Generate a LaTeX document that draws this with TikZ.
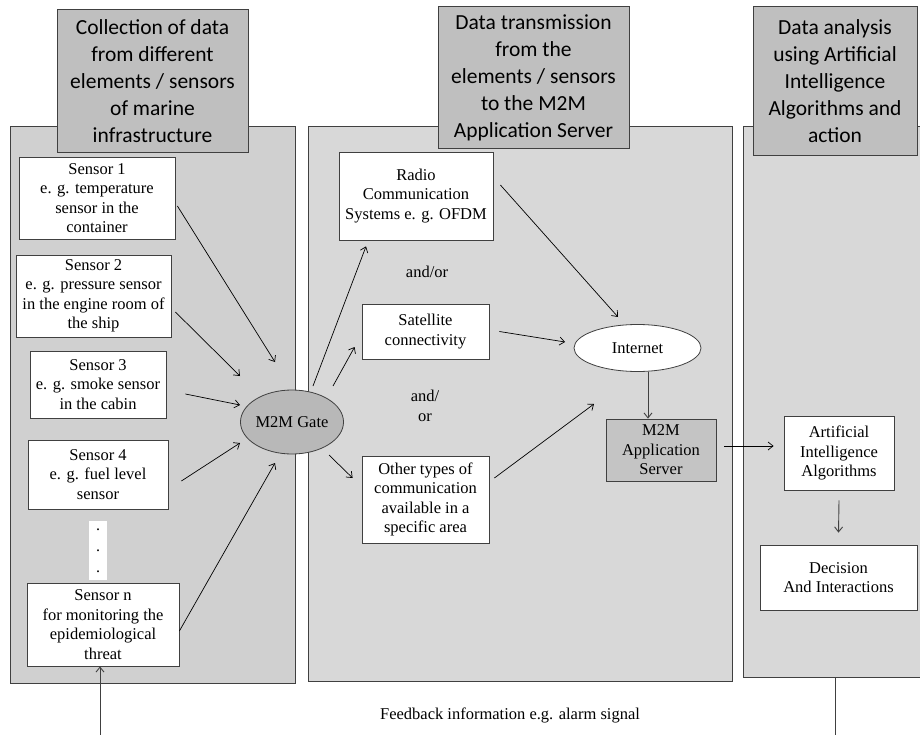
\documentclass[tikz,border=0pt]{standalone}
\usepackage{fontspec}
\setmainfont{Liberation Serif}
\newfontfamily\titlefont{Carlito}
\usetikzlibrary{arrows.meta,shapes.geometric,calc}
\definecolor{panelA}{HTML}{D0D0D0}
\definecolor{panelB}{HTML}{D8D8D8}
\definecolor{titlefill}{HTML}{BFBFBF}
\definecolor{gatefill}{HTML}{B8B8B8}
\definecolor{serverfill}{HTML}{C4C4C4}
\definecolor{edge}{HTML}{404040}
\tikzset{
  panel/.style={draw=edge, line width=1pt, inner sep=0pt},
  titlebox/.style={draw=edge, fill=titlefill, line width=1pt, align=center, inner sep=0pt,
    font=\titlefont\fontsize{21.5}{27}\selectfont},
  box/.style={draw=edge, fill=white, line width=0.8pt, align=center, inner sep=0pt,
    font=\fontsize{16.5}{19.5}\selectfont},
  oval/.style={ellipse, draw=edge, line width=0.8pt, inner sep=0pt, align=center,
    font=\fontsize{16.5}{19.5}\selectfont},
  lbl/.style={align=center, inner sep=0pt, font=\fontsize{16.5}{19.5}\selectfont},
  arr/.style={draw=black, line width=0.7pt, -{Straight Barb[length=5pt,width=8pt]}},
  garr/.style={draw=edge, line width=0.9pt, -{Straight Barb[length=5pt,width=8pt]}},
  gline/.style={draw=edge, line width=0.9pt},
}
\begin{document}
\begin{tikzpicture}[x=1pt,y=-1pt]
\useasboundingbox (0,0) rectangle (920,735);
\clip (0,0) rectangle (920,735);
\fill[white] (0,0) rectangle (920,735);

% panels
\node[panel, fill=panelA, minimum width=285pt, minimum height=556pt] (p1) at (152.5,405) {};
\node[panel, fill=panelB, minimum width=424pt, minimum height=554pt] (p2) at (520,404) {};
\node[panel, fill=panelB, minimum width=187pt, minimum height=550pt] (p3) at (836.5,402) {};

% titles
\node[titlebox, minimum width=191pt, minimum height=143pt] (t1) at (152.5,81.5)
  {Collection of data\\from different\\elements / sensors\\of marine\\infrastructure};
\node[titlebox, minimum width=191pt, minimum height=142pt] (t2) at (533.5,78)
  {Data transmission\\from the\\elements / sensors\\to the M2M\\Application Server};
\node[titlebox, minimum width=164pt, minimum height=149pt] (t3) at (835,81.5)
  {Data analysis\\using Artificial\\Intelligence\\Algorithms and\\action};

% sensors
\node[box, minimum width=156pt, minimum height=82pt] (s1) at (97,198)
  {Sensor 1\\e. g. temperature\\sensor in the\\container};
\node[box, minimum width=155pt, minimum height=82pt] (s2) at (93.5,296)
  {Sensor 2\\e. g. pressure sensor\\in the engine room of\\the ship};
\node[box, minimum width=136pt, minimum height=67pt] (s3) at (98,384.5)
  {Sensor 3\\e. g. smoke sensor\\in the cabin};
\node[box, minimum width=140pt, minimum height=69pt] (s4) at (98,474.5)
  {Sensor 4\\e. g. fuel level\\sensor};
\node[fill=white, inner sep=0pt, minimum width=18pt, minimum height=59pt, align=center,
  font=\fontsize{16}{21}\selectfont] (dots) at (98,550.5) {.\\.\\.};
\node[box, minimum width=152pt, minimum height=83pt] (sn) at (103,624.5)
  {Sensor n\\for monitoring the\\epidemiological\\threat};

\node[oval, fill=gatefill, minimum width=94pt, minimum height=64pt] (gate) at (292,422) {M2M Gate};

% transmission
\node[box, minimum width=154pt, minimum height=88pt] (radio) at (416,196)
  {Radio\\Communication\\Systems e. g. OFDM};
\node[box, minimum width=127pt, minimum height=55pt] (sat) at (425.5,331.5)
  {Satellite\\connectivity};
\node[box, minimum width=127pt, minimum height=87pt] (other) at (425.5,499.5)
  {Other types of\\communication\\available in a\\specific area};
\node[lbl] (ao1) at (427,272) {and/or};
\node[lbl] (ao2) at (425,406) {and/\\or};
\node[oval, fill=white, minimum width=127pt, minimum height=47pt] (inet) at (637.5,348) {Internet};
\node[box, fill=serverfill, minimum width=110pt, minimum height=62pt] (server) at (661,450)
  {M2M\\Application\\Server};

% analysis
\node[box, minimum width=110pt, minimum height=74pt] (ai) at (839,453)
  {Artificial\\Intelligence\\Algorithms};
\node[box, minimum width=157pt, minimum height=65pt] (dec) at (838.5,577.5)
  {Decision\\And Interactions};

\node[lbl] (fb) at (510,715) {Feedback information e.g. alarm signal};

% connectors
\draw[arr] ([shift={(2,8)}]s1.east) -- ([shift={(-17,-60)}]gate.center);
\draw[arr] ([shift={(4,16)}]s2.east) -- ([shift={(-52,-46)}]gate.center);
\draw[arr] ([shift={(19,9.5)}]s3.east) -- ([shift={(-52,-17)}]gate.center);
\draw[arr] ([shift={(13,6.5)}]s4.east) -- ([shift={(-52,21)}]gate.center);
\draw[arr] ([shift={(0,6.5)}]sn.east) -- ([shift={(-17,41)}]gate.center);

\draw[arr] ([shift={(21,-36)}]gate.center) -- ([shift={(-50,6)}]radio.south);
\draw[arr] ([shift={(41,-36)}]gate.center) -- ([shift={(-7,15.5)}]sat.west);
\draw[arr] ([shift={(37,33)}]gate.center) -- ([shift={(-9,-21.5)}]other.west);

\draw[arr] ([shift={(7,-11)}]radio.east) -- ([shift={(-19.5,-31)}]inet.center);
\draw[arr] ([shift={(10,0)}]sat.east) -- ([shift={(-8.5,-6)}]inet.west);
\draw[arr] ([shift={(5,-21.5)}]other.east) -- ([shift={(-43.5,56)}]inet.center);

\draw[garr] ([xshift=10.5pt]inet.south) -- ([xshift=10.5pt]inet.south |- server.north);
\draw[arr] ([shift={(8,-4)}]server.east) -- ([shift={(-10,-7)}]ai.west);
\draw[garr] ([shift={(0,10)}]ai.south) -- ([shift={(0,-12)}]dec.north);

\coordinate (fbR) at (835,740);
\coordinate (fbL) at (100,740);
\draw[gline] (fbR |- p3.south) -- (fbR);
\draw[garr] (fbL) -- (fbL |- sn.south);
\end{tikzpicture}
\end{document}
